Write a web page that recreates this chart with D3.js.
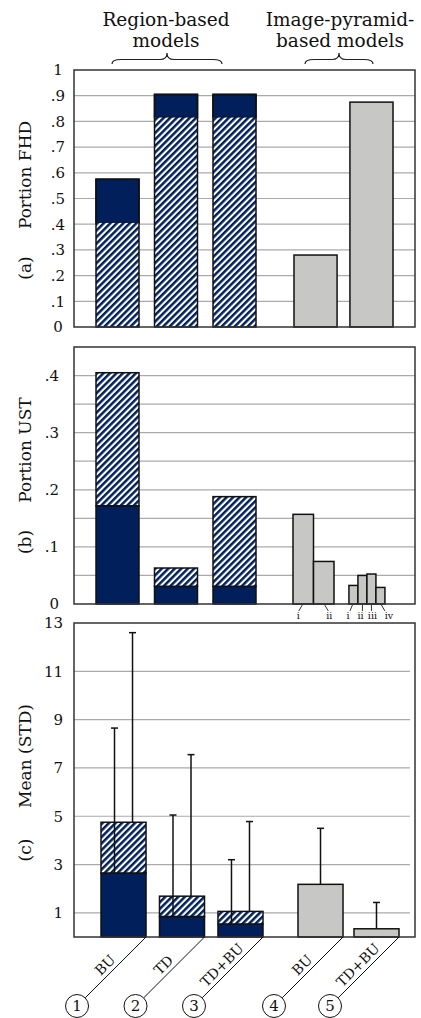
<!DOCTYPE html>
<html>
<head>
<meta charset="utf-8">
<script src="https://cdn.jsdelivr.net/npm/d3@7"></script>
<style>
    body { margin: 0; background: #fff; }
    svg { display: block; }
    text { font-family: "DejaVu Serif", "Liberation Serif", serif; fill: #111; }
</style>
</head>
<body>
<svg id="chart" width="421" height="1018"></svg>
<script>
// ---- data ----
const models = ["BU", "TD", "TD+BU", "BU", "TD+BU"];
const regionIds = [1, 2, 3];
const pyramidIds = [4, 5];
const groupLabels = [["Region-based", "models"], ["Image-pyramid-", "based models"]];

// (a) portion FHD: hatched bottom part, solid up to total
const fhdHatched = [0.405, 0.815, 0.815];
const fhdTotal = [0.575, 0.905, 0.905];
const fhdPyramid = [0.28, 0.875];
const fhdTicks = [0, 0.1, 0.2, 0.3, 0.4, 0.5, 0.6, 0.7, 0.8, 0.9, 1];

// (b) portion UST: solid bottom part, hatched up to total
const ustSolid = [0.172, 0.031, 0.031];
const ustTotal = [0.405, 0.063, 0.188];
const ustPyramidA = [0.157, 0.0745];
const ustPyramidB = [0.0325, 0.05, 0.0525, 0.029];
const romanA = ["i", "ii"];
const romanB = ["i", "ii", "iii", "iv"];
const ustTicks = [0, 0.1, 0.2, 0.3, 0.4];
const ustGrid = [0.05, 0.1, 0.15, 0.2, 0.25, 0.3, 0.35, 0.4];

// (c) mean (STD)
const stdSolid = [2.65, 0.85, 0.54];
const stdTotal = [4.75, 1.69, 1.06];
const stdSolidErr = [8.65, 5.05, 3.2];
const stdTotalErr = [12.6, 7.55, 4.78];
const stdPyramid = [2.18, 0.34];
const stdPyramidErr = [4.5, 1.43];
const stdTicks = [1, 3, 5, 7, 9, 11, 13];

// ---- style ----
const NAVY = "#001f5b";
const GREY = "#c7c8c5";
const frameL = 74, frameR = 415;

const svg = d3.select("#chart");
svg.append("rect").attr("width", 421).attr("height", 1018).attr("fill", "#fff");

const defs = svg.append("defs");
const pat = defs.append("pattern")
    .attr("id", "hatch")
    .attr("patternUnits", "userSpaceOnUse")
    .attr("width", 4.6).attr("height", 4.6)
    .attr("patternTransform", "rotate(45)");
pat.append("rect").attr("width", 4.6).attr("height", 4.6).attr("fill", "#fff");
pat.append("rect").attr("width", 2.5).attr("height", 4.6).attr("fill", NAVY);

// x scales
const xRegAB = d3.scaleBand().domain(regionIds).range([96, 256]).paddingInner(0.265);
const xPyrAB = d3.scaleBand().domain(pyramidIds).range([294, 393]).paddingInner(0.23);
const xRegC = d3.scaleBand().domain(regionIds).range([101, 263]).paddingInner(0.23);
const xPyrC = d3.scaleBand().domain(pyramidIds).range([298, 399]).paddingInner(0.196);

// y scales
const yA = d3.scaleLinear().domain([0, 1]).range([327, 70]);
const yB = d3.scaleLinear().domain([0, 0.45]).range([604, 347]);
const yC = d3.scaleLinear().domain([0, 13]).range([937, 623]);

const fmtDec = (d) => (d === 0 ? "0" : d === 1 ? "1" : d3.format(".1f")(d).replace(/^0/, ""));

function grid(y, values, x2) {
    svg.append("g")
        .selectAll("line")
        .data(values)
        .join("line")
        .attr("x1", frameL).attr("x2", x2)
        .attr("y1", (d) => y(d)).attr("y2", (d) => y(d))
        .attr("stroke", "#aaa").attr("stroke-width", 1.2);
}

function frame(y) {
    const [b, t] = y.range();
    svg.append("rect")
        .attr("x", frameL).attr("y", t)
        .attr("width", frameR - frameL).attr("height", b - t)
        .attr("fill", "none").attr("stroke", "#333").attr("stroke-width", 1.5);
}

function axis(y, ticks, fmt, x, anchor) {
    const g = svg.append("g")
        .attr("transform", `translate(${x},0)`)
        .call(d3.axisLeft(y).tickValues(ticks).tickSize(0).tickPadding(0).tickFormat(fmt));
    g.select(".domain").remove();
    g.selectAll("text")
        .attr("x", 0)
        .attr("text-anchor", anchor)
        .style("font-size", "15px")
        .style("font-family", '"DejaVu Serif", serif')
        .attr("fill", "#111");
}

function yTitle(label, title, yLabel, yTitle) {
    svg.append("text")
        .attr("transform", `translate(31,${yLabel}) rotate(-90)`)
        .attr("text-anchor", "middle")
        .style("font-size", "17px")
        .text(label);
    svg.append("text")
        .attr("transform", `translate(31,${yTitle}) rotate(-90)`)
        .attr("text-anchor", "middle")
        .style("font-size", "17px")
        .text(title);
}

function bar(x, w, y0, y1, fill, sw = 1.5) {
    svg.append("rect")
        .attr("x", x).attr("y", y1)
        .attr("width", w).attr("height", y0 - y1)
        .attr("fill", fill).attr("stroke", "#111").attr("stroke-width", sw);
}

// ---- group headers with braces ----
function brace(x0, x1, yb, yt) {
    const xm = (x0 + x1) / 2, ym = (yb + yt) / 2 + 1;
    const p = `M${x0},${yb} Q${x0},${ym} ${x0 + 9},${ym} L${xm - 7},${ym} Q${xm},${ym} ${xm},${yt}` +
        ` Q${xm},${ym} ${xm + 7},${ym} L${x1 - 9},${ym} Q${x1},${ym} ${x1},${yb}`;
    svg.append("path").attr("d", p).attr("fill", "none").attr("stroke", "#222").attr("stroke-width", 1.2);
}
const headerX = [166, 340];
groupLabels.forEach((lines, i) => {
    lines.forEach((t, j) => {
        svg.append("text")
            .attr("x", headerX[i]).attr("y", 25.5 + j * 21.5)
            .attr("text-anchor", "middle")
            .style("font-size", "18.5px")
            .text(t);
    });
});
brace(112, 222, 64, 53);
brace(305, 373, 64, 53);

// ---- panel (a) ----
grid(yA, fhdTicks.slice(1, -1), frameR);
regionIds.forEach((id, i) => {
    bar(xRegAB(id), xRegAB.bandwidth(), yA(fhdHatched[i]), yA(fhdTotal[i]), NAVY);
    bar(xRegAB(id), xRegAB.bandwidth(), yA(0), yA(fhdHatched[i]), "url(#hatch)", 0);
    svg.append("rect")
        .attr("x", xRegAB(id)).attr("y", yA(fhdTotal[i]))
        .attr("width", xRegAB.bandwidth()).attr("height", yA(0) - yA(fhdTotal[i]))
        .attr("fill", "none").attr("stroke", "#111").attr("stroke-width", 1.5);
});
pyramidIds.forEach((id, i) => {
    bar(xPyrAB(id), xPyrAB.bandwidth(), yA(0), yA(fhdPyramid[i]), GREY);
});
frame(yA);
axis(yA, fhdTicks, fmtDec, 58, "middle");
yTitle("(a)", "Portion FHD", 268, 175);

// ---- panel (b) ----
grid(yB, ustGrid, frameR);
regionIds.forEach((id, i) => {
    bar(xRegAB(id), xRegAB.bandwidth(), yB(0), yB(ustSolid[i]), NAVY);
    bar(xRegAB(id), xRegAB.bandwidth(), yB(ustSolid[i]), yB(ustTotal[i]), "url(#hatch)");
});
const subA = d3.scaleBand().domain(romanA).range([xPyrAB(4) - 1, xPyrAB(4) + 40]);
const subB = d3.scaleBand().domain(romanB).range([xPyrAB(5) - 1, xPyrAB(5) + 35]);
// label shift and leader-line end shift under each small bar
const labelDxA = [-5, 5.5], lineDxA = [-4.5, 4.5];
const labelDxB = [-5.5, -1.8, 1, 8.5], lineDxB = [-3.5, 0, 0, 4.5];
[[subA, ustPyramidA, romanA, labelDxA, lineDxA], [subB, ustPyramidB, romanB, labelDxB, lineDxB]]
    .forEach(([s, vals, labs, ldx, tdx]) => {
        labs.forEach((l, i) => {
            bar(s(l), s.bandwidth(), yB(0), yB(vals[i]), GREY);
            const cx = s(l) + s.bandwidth() / 2;
            svg.append("line")
                .attr("x1", cx + Math.sign(tdx[i])).attr("y1", yB(0) + 1)
                .attr("x2", cx + tdx[i]).attr("y2", yB(0) + 7)
                .attr("stroke", "#333").attr("stroke-width", 1);
            svg.append("text")
                .attr("x", cx + ldx[i]).attr("y", 619)
                .attr("text-anchor", "middle")
                .style("font-size", "9.5px")
                .text(l);
        });
    });
frame(yB);
axis(yB, ustTicks, fmtDec, 59, "end");
yTitle("(b)", "Portion UST", 542, 450);

// ---- panel (c) ----
grid(yC, stdTicks.slice(0, -1), 410);
function whisker(x, from, to) {
    svg.append("line").attr("x1", x).attr("x2", x).attr("y1", yC(from)).attr("y2", yC(to))
        .attr("stroke", "#111").attr("stroke-width", 1.5);
    svg.append("line").attr("x1", x - 3.5).attr("x2", x + 3.5).attr("y1", yC(to)).attr("y2", yC(to))
        .attr("stroke", "#111").attr("stroke-width", 1.5);
}
regionIds.forEach((id, i) => {
    const x = xRegC(id), w = xRegC.bandwidth();
    bar(x, w, yC(0), yC(stdSolid[i]), NAVY);
    bar(x, w, yC(stdSolid[i]), yC(stdTotal[i]), "url(#hatch)");
    whisker(x + w * 0.3, stdSolid[i], stdSolidErr[i]);
    whisker(x + w * 0.7, stdTotal[i], stdTotalErr[i]);
});
pyramidIds.forEach((id, i) => {
    const x = xPyrC(id), w = xPyrC.bandwidth();
    bar(x, w, yC(0), yC(stdPyramid[i]), GREY);
    whisker(x + w / 2, stdPyramid[i], stdPyramidErr[i]);
});
frame(yC);
axis(yC, stdTicks, d3.format("d"), 63, "end");
yTitle("(c)", "Mean  (STD)", 850, 756);

// ---- category labels with numbered circles ----
const corners = [...regionIds.map((id) => xRegC(id) + xRegC.bandwidth()),
                 ...pyramidIds.map((id) => xPyrC(id) + xPyrC.bandwidth())];
const r = 11.5, off = 69, y0 = yC(0);
corners.forEach((cx, i) => {
    const ccx = cx - off, ccy = y0 + off;
    svg.append("line")
        .attr("x1", cx).attr("y1", y0)
        .attr("x2", ccx + r / Math.SQRT2).attr("y2", ccy - r / Math.SQRT2)
        .attr("stroke", "#111").attr("stroke-width", 1);
    svg.append("circle")
        .attr("cx", ccx).attr("cy", ccy).attr("r", r)
        .attr("fill", "#fff").attr("stroke", "#111").attr("stroke-width", 1);
    svg.append("text")
        .attr("x", ccx).attr("y", ccy).attr("dy", "0.35em")
        .attr("text-anchor", "middle")
        .style("font-size", "15px")
        .text(i + 1);
    svg.append("text")
        .attr("transform", `translate(${cx - 41},${y0 + 28}) rotate(-45)`)
        .attr("dy", "0.35em")
        .attr("text-anchor", "middle")
        .style("font-size", "14px")
        .text(models[i]);
});
</script>
</body>
</html>
